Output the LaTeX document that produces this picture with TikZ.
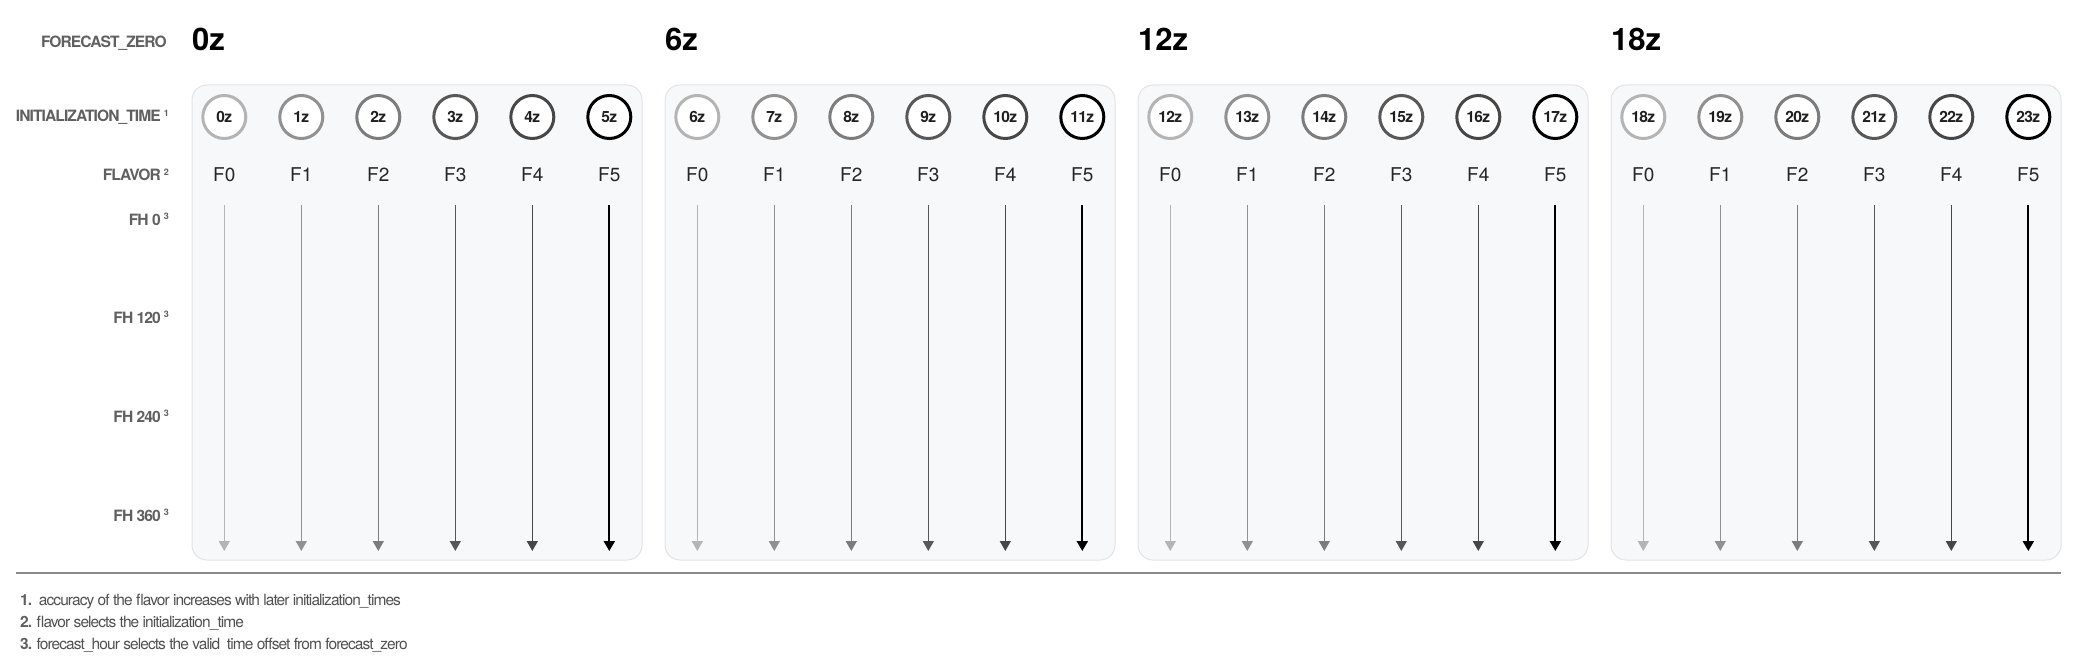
\documentclass[tikz,border=0pt]{standalone}
\usepackage{fontspec}
\setmainfont{TeX Gyre Heros}
\newfontfamily\tightfont[LetterSpace=-4]{TeX Gyre Heros}
\newfontfamily\tighterfont[LetterSpace=-6]{TeX Gyre Heros}
\usetikzlibrary{arrows.meta}
\definecolor{panelfill}{HTML}{F7F8FA}
\definecolor{panelline}{HTML}{E2E3E6}
\definecolor{labelgray}{HTML}{606060}
\definecolor{notegray}{HTML}{505050}
\definecolor{rulegray}{HTML}{8A8A8A}
\definecolor{c0}{HTML}{B4B4B4}
\definecolor{c1}{HTML}{919191}
\definecolor{c2}{HTML}{7C7C7C}
\definecolor{c3}{HTML}{585858}
\definecolor{c4}{HTML}{474747}
\definecolor{c5}{HTML}{000000}
\newcommand\notemark[1]{\hspace{3pt}\raisebox{5.5pt}{\fontsize{9}{9}\selectfont\bfseries #1}}
\begin{document}
\begin{tikzpicture}[x=1pt,y=-1pt,
 rowlabel/.style={anchor=base east, font=\tighterfont\fontsize{15.6}{17}\selectfont\bfseries, text=labelgray, inner sep=0pt},
 heading/.style={anchor=base west, font=\fontsize{31}{34}\selectfont\bfseries, text=black, inner sep=0pt},
 panel/.style={draw=panelline, fill=panelfill, rounded corners=15pt, line width=1pt},
 timecircle/.style={circle, fill=white, line width=3pt, minimum size=43pt, inner sep=0pt, font=\tightfont\fontsize{15.5}{16}\selectfont\bfseries, text=black!88},
 flavorlabel/.style={font=\fontsize{19}{22}\selectfont, text=black!85, inner sep=0pt},
 fharrow/.style={-{Triangle[width=11pt,length=10pt]}, line width=1.5pt},
 note/.style={anchor=base west, font=\tighterfont\fontsize{15.5}{17}\selectfont, text=notegray, inner sep=0pt},
 rule/.style={draw=rulegray, line width=1.3pt},
]
\useasboundingbox (0,0) rectangle (2076,671);

% row labels
\node[rowlabel] (lzero) at (167,48) {FORECAST\_ZERO};
\node[rowlabel] (linit) at (169,122) {INITIALIZATION\_TIME\notemark{1}};
\node[rowlabel] (lflav) at (169,181) {FLAVOR\notemark{2}};
\node[rowlabel] (lfh0) at (169,225) {FH 0\notemark{3}};
\node[rowlabel] (lfh120) at (169,323) {FH 120\notemark{3}};
\node[rowlabel] (lfh240) at (169,422) {FH 240\notemark{3}};
\node[rowlabel] (lfh360) at (169,521) {FH 360\notemark{3}};

% panels
\foreach \p/\L/\h in {0/192/0z, 1/665/6z, 2/1138/12z, 3/1611/18z}{
  \draw[panel] (\L,85) rectangle ++(450,475);
  \node[heading] (head\p) at (\L,51) {\h};
  \foreach \j in {0,...,5}{
    \pgfmathsetmacro\cx{\L+32.3+77*\j}
    \pgfmathtruncatemacro\t{6*\p+\j}
    \node[timecircle, draw=c\j] (t\p\j) at (\cx,117) {\t z};
    \node[flavorlabel] (f\p\j) at (\cx,175) {F\j};
    \coordinate (s\p\j) at (\cx,205);
    \coordinate (e\p\j) at (\cx,551);
  }
  \foreach \j in {0,...,4}{
    \draw[fharrow, c\j] (s\p\j) -- (e\p\j);
  }
  \draw[fharrow, c5, line width=2.2pt] (s\p5) -- (e\p5);
}

% rule
\coordinate (ruleL) at (16,573);
\coordinate (ruleR) at (2061,573);
\draw[rule] (ruleL) -- (ruleR);

% notes
\node[note] (n1) at (20,605) {{\color{labelgray}\bfseries 1.}\ \ accuracy of the flavor increases with later initialization\_times};
\node[note] (n2) at (20,627) {{\color{labelgray}\bfseries 2.} flavor selects the initialization\_time};
\node[note] (n3) at (20,649) {{\color{labelgray}\bfseries 3.} forecast\_hour selects the valid\ \ time offset from forecast\_zero};
\end{tikzpicture}
\end{document}
